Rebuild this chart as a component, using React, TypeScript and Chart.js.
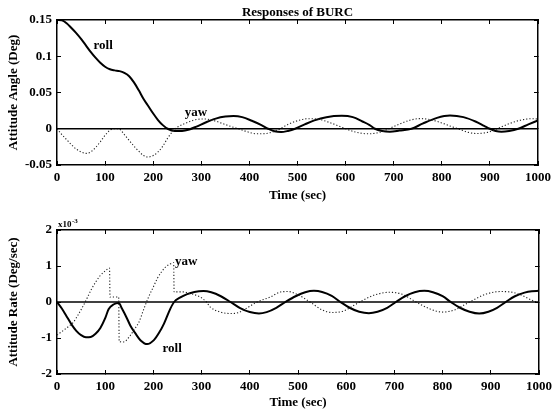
import React, { useEffect, useRef } from 'react';
import { Chart, registerables } from 'chart.js';

Chart.register(...registerables);

// ---------- data ----------
const TIME_MIN = 0;
const TIME_MAX = 1000;
const TIME_STEP = 100;

// Attitude angle (Deg)
const ROLL_ANGLE: [number, number][] = [
  [0, 0.15], [10, 0.1495], [20, 0.1455], [30, 0.139], [40, 0.132], [50, 0.124], [60, 0.115],
  [70, 0.106], [80, 0.098], [90, 0.091], [100, 0.0855], [110, 0.082], [120, 0.0805], [130, 0.0795],
  [140, 0.077], [150, 0.0725], [160, 0.064], [170, 0.053], [180, 0.041], [190, 0.031], [200, 0.021],
  [210, 0.012], [220, 0.005], [230, 0.0], [245, -0.003], [260, -0.003], [275, -0.001], [290, 0.003],
  [310, 0.009], [330, 0.014], [350, 0.0168], [367, 0.0175], [385, 0.016], [405, 0.011], [425, 0.005],
  [439, 0.0], [452, -0.0035], [466, -0.0046], [480, -0.003], [495, 0.0], [515, 0.006], [535, 0.0115],
  [560, 0.016], [592, 0.0178], [615, 0.016], [635, 0.01], [650, 0.005], [661, 0.0], [676, -0.003],
  [692, -0.004], [712, -0.0025], [737, 0.0], [760, 0.007], [790, 0.015], [817, 0.0182], [845, 0.016],
  [870, 0.01], [888, 0.004], [900, 0.0], [912, -0.003], [924, -0.004], [940, -0.003], [959, 0.0],
  [980, 0.006], [1000, 0.0115],
];
const YAW_ANGLE: [number, number][] = [
  [0, 0], [10, -0.008], [20, -0.015], [30, -0.022], [40, -0.028], [50, -0.032], [60, -0.034],
  [70, -0.032], [80, -0.026], [90, -0.018], [100, -0.009], [110, -0.002], [118, 0], [128, 0],
  [140, -0.008], [150, -0.016], [160, -0.024], [170, -0.031], [180, -0.037], [188, -0.039],
  [200, -0.037], [210, -0.032], [220, -0.024], [230, -0.013], [240, -0.004], [250, 0.002],
  [265, 0.007], [285, 0.012], [305, 0.0135], [325, 0.0115], [345, 0.007], [362, 0.003], [377, 0.0],
  [395, -0.004], [415, -0.007], [435, -0.0065], [450, -0.004], [464, 0.0], [480, 0.006], [500, 0.011],
  [520, 0.0138], [545, 0.013], [565, 0.009], [585, 0.004], [600, 0.0], [620, -0.0045], [647, -0.007],
  [670, -0.005], [690, 0.0], [710, 0.006], [735, 0.012], [755, 0.014], [780, 0.012], [800, 0.008],
  [820, 0.003], [834, 0.0], [855, -0.005], [872, -0.0065], [895, -0.005], [915, 0.0], [940, 0.007],
  [965, 0.012], [985, 0.0138], [1000, 0.0135],
];

// Attitude rate (x10^-3 Deg/sec)
const ROLL_RATE: [number, number][] = [
  [0, 0], [10, -0.18], [20, -0.4], [30, -0.62], [40, -0.8], [50, -0.92], [60, -0.98], [70, -0.97],
  [80, -0.88], [90, -0.72], [100, -0.45], [107, -0.2], [117, -0.07], [128, -0.03], [135, -0.19],
  [145, -0.45], [152, -0.65], [163, -0.88], [173, -1.06], [187, -1.17], [201, -1.06], [212, -0.85],
  [222, -0.6], [235, -0.19], [243, 0], [255, 0.12], [270, 0.22], [285, 0.28], [304, 0.305], [320, 0.27],
  [340, 0.16], [360, 0], [380, -0.17], [400, -0.28], [419, -0.32], [435, -0.28], [455, -0.16], [474, 0],
  [495, 0.16], [515, 0.27], [533, 0.31], [550, 0.28], [570, 0.17], [588, 0], [607, -0.16], [627, -0.27],
  [647, -0.31], [665, -0.27], [685, -0.16], [703, 0], [722, 0.16], [742, 0.27], [762, 0.31], [780, 0.27],
  [800, 0.16], [817, 0], [836, -0.16], [856, -0.27], [876, -0.32], [895, -0.27], [913, -0.16], [931, 0],
  [950, 0.16], [970, 0.26], [985, 0.3], [1000, 0.31],
];
const YAW_RATE: [number, number][] = [
  [0, -0.92], [4, -0.88], [20, -0.72], [34, -0.56], [45, -0.33], [55, -0.09], [64, 0.15], [72, 0.37],
  [81, 0.57], [90, 0.74], [100, 0.86], [109, 0.94], [110, 0.14], [128, 0.14], [129, -1.1], [138, -1.11],
  [152, -0.93], [161, -0.75], [170, -0.56], [180, -0.2], [190, 0.14], [200, 0.42], [208, 0.65],
  [217, 0.84], [225, 0.97], [234, 1.05], [242, 1.09], [243, 0.28], [262, 0.28], [275, 0.24], [297, 0.14],
  [310, 0.0], [318, -0.14], [339, -0.28], [360, -0.32], [375, -0.3], [395, -0.16], [415, 0], [443, 0.14],
  [464, 0.28], [480, 0.29], [500, 0.2], [525, 0], [550, -0.22], [570, -0.29], [595, -0.25], [615, -0.1],
  [635, 0.05], [660, 0.2], [690, 0.27], [715, 0.22], [745, 0], [775, -0.2], [800, -0.28], [825, -0.22],
  [845, -0.08], [860, 0.03], [890, 0.22], [920, 0.29], [945, 0.27], [965, 0.18], [985, 0.05], [1000, -0.03],
];

const ANGLE_Y_TICKS = [-0.05, 0, 0.05, 0.1, 0.15];
const RATE_Y_TICKS = [-2, -1, 0, 1, 2];

const ANGLE_NOTES: { text: string; t: number; v: number }[] = [
  { text: 'roll', t: 96, v: 0.114 },
  { text: 'yaw', t: 289, v: 0.0226 },
];
const RATE_NOTES: { text: string; t: number; v: number }[] = [
  { text: 'yaw', t: 268, v: 1.13 },
  { text: 'roll', t: 239, v: -1.29 },
];

// ---------- chart building ----------
const FONT = '"Liberation Serif", "Times New Roman", serif';
const W = 553;

type Spec = {
  height: number;
  padTop: number;
  padRight: number;
  chartBottomGap: number;
  title?: string;
  yTitle: string;
  yTicks: number[];
  roll: [number, number][];
  yaw: [number, number][];
  notes: { text: string; t: number; v: number }[];
  exponent?: boolean;
  xTitleBottom: number;
};

const toXY = (arr: [number, number][]) => arr.map(([x, y]) => ({ x, y }));
const fmt = (v: number) => String(parseFloat(v.toFixed(4)));

function buildConfig(spec: Spec): any {
  const yMin = spec.yTicks[0];
  const yMax = spec.yTicks[spec.yTicks.length - 1];
  const yStep = spec.yTicks[1] - spec.yTicks[0];
  const setTicks = (scale: any) => {
    scale.ticks = spec.yTicks.map((value) => ({ value }));
  };
  const tickFont = { family: FONT, size: 13, weight: 'bold', lineHeight: 1.2 };
  const titleFont = { family: FONT, size: 13, weight: 'bold', lineHeight: 1.2 };
  const border = { display: true, color: '#000', width: 1.5 };
  const grid = { drawOnChartArea: false, tickLength: -4, color: '#000', lineWidth: 1 };

  const notesPlugin = {
    id: 'notes',
    afterDatasetsDraw(chart: any) {
      const { ctx, scales } = chart;
      ctx.save();
      ctx.fillStyle = '#000';
      ctx.font = `bold 13px ${FONT}`;
      ctx.textAlign = 'center';
      ctx.textBaseline = 'middle';
      spec.notes.forEach((n) => {
        ctx.fillText(n.text, scales.x.getPixelForValue(n.t), scales.y.getPixelForValue(n.v));
      });
      if (spec.exponent) {
        const x0 = chart.chartArea.left + 1;
        const y0 = chart.chartArea.top - 3;
        ctx.textAlign = 'left';
        ctx.textBaseline = 'alphabetic';
        ctx.font = `bold 9px ${FONT}`;
        ctx.fillText('x10', x0, y0);
        const w = ctx.measureText('x10').width;
        ctx.font = `bold 7px ${FONT}`;
        ctx.fillText('-3', x0 + w + 0.5, y0 - 4);
      }
      ctx.restore();
    },
  };

  return {
    type: 'line',
    data: {
      datasets: [
        {
          data: [{ x: TIME_MIN, y: 0 }, { x: TIME_MAX, y: 0 }],
          borderColor: '#000',
          borderWidth: 1.5,
          pointRadius: 0,
          xAxisID: 'x',
          yAxisID: 'y',
        },
        {
          label: 'yaw',
          data: toXY(spec.yaw),
          borderColor: '#222',
          borderWidth: 1.1,
          borderDash: [1.2, 2],
          pointRadius: 0,
          cubicInterpolationMode: 'monotone',
          xAxisID: 'x',
          yAxisID: 'y',
        },
        {
          label: 'roll',
          data: toXY(spec.roll),
          borderColor: '#000',
          borderWidth: 2,
          pointRadius: 0,
          cubicInterpolationMode: 'monotone',
          xAxisID: 'x',
          yAxisID: 'y',
        },
      ],
    },
    options: {
      animation: false,
      responsive: false,
      devicePixelRatio: 1,
      parsing: false,
      normalized: true,
      layout: { padding: { left: 0, right: spec.padRight, top: spec.padTop, bottom: 0 } },
      plugins: {
        legend: { display: false },
        tooltip: { enabled: false },
        title: spec.title
          ? {
              display: true,
              text: spec.title,
              color: '#000',
              font: titleFont,
              padding: { top: 4.4, bottom: 0 },
              fullSize: false,
            }
          : { display: false },
      },
      scales: {
        x: {
          type: 'linear',
          position: 'bottom',
          min: TIME_MIN,
          max: TIME_MAX,
          ticks: {
            stepSize: TIME_STEP,
            autoSkip: false,
            maxRotation: 0,
            color: '#000',
            font: tickFont,
            padding: 9,
            callback: (v: any) => String(v),
          },
          grid,
          border,
          title: {
            display: true,
            text: 'Time (sec)',
            color: '#000',
            font: titleFont,
            padding: { top: 0, bottom: spec.xTitleBottom },
          },
          afterFit: (s: any) => {
            s.height = spec.chartBottomGap;
            s.paddingLeft = 0;
            s.paddingRight = 0;
          },
        },
        x2: {
          type: 'linear',
          position: 'top',
          min: TIME_MIN,
          max: TIME_MAX,
          ticks: { display: false, stepSize: TIME_STEP },
          grid,
          border,
          afterFit: (s: any) => {
            s.height = 0;
            s.paddingLeft = 0;
            s.paddingRight = 0;
          },
        },
        y: {
          type: 'linear',
          position: 'left',
          min: yMin,
          max: yMax,
          afterBuildTicks: setTicks,
          ticks: {
            stepSize: yStep,
            color: '#000',
            font: tickFont,
            padding: 9,
            callback: (v: any) => fmt(Number(v)),
          },
          grid,
          border,
          title: {
            display: true,
            text: spec.yTitle,
            color: '#000',
            font: titleFont,
            padding: { top: 5.5, bottom: 0 },
          },
          afterFit: (s: any) => {
            s.width = 57;
            s.paddingTop = 0;
            s.paddingBottom = 0;
          },
        },
        y2: {
          type: 'linear',
          position: 'right',
          min: yMin,
          max: yMax,
          afterBuildTicks: setTicks,
          ticks: { display: false, stepSize: yStep },
          grid,
          border,
          afterFit: (s: any) => {
            s.width = 0;
            s.paddingTop = 0;
            s.paddingBottom = 0;
          },
        },
      },
    },
    plugins: [notesPlugin],
  };
}

const TOP_SPEC: Spec = {
  height: 207,
  padTop: 0,
  padRight: 15,
  chartBottomGap: 42,
  title: 'Responses of BURC',
  yTitle: 'Attitude Angle (Deg)',
  yTicks: ANGLE_Y_TICKS,
  roll: ROLL_ANGLE,
  yaw: YAW_ANGLE,
  notes: ANGLE_NOTES,
  xTitleBottom: 3.3,
};

const BOTTOM_SPEC: Spec = {
  height: 208,
  padTop: 23,
  padRight: 14,
  chartBottomGap: 41,
  yTitle: 'Attitude Rate (Deg/sec)',
  yTicks: RATE_Y_TICKS,
  roll: ROLL_RATE,
  yaw: YAW_RATE,
  notes: RATE_NOTES,
  exponent: true,
  xTitleBottom: 4.3,
};

function Panel({ spec, top }: { spec: Spec; top: number }) {
  const ref = useRef<HTMLCanvasElement | null>(null);
  useEffect(() => {
    if (!ref.current) return;
    const chart = new Chart(ref.current, buildConfig(spec));
    return () => chart.destroy();
  }, [spec]);
  return (
    <canvas
      ref={ref}
      width={W}
      height={spec.height}
      style={{ position: 'absolute', left: 0, top, width: W, height: spec.height, display: 'block' }}
    />
  );
}

export default function App() {
  return (
    <div style={{ position: 'absolute', left: 0, top: 0, width: W, height: 415, background: '#fff' }}>
      <Panel spec={TOP_SPEC} top={0} />
      <Panel spec={BOTTOM_SPEC} top={207} />
    </div>
  );
}
